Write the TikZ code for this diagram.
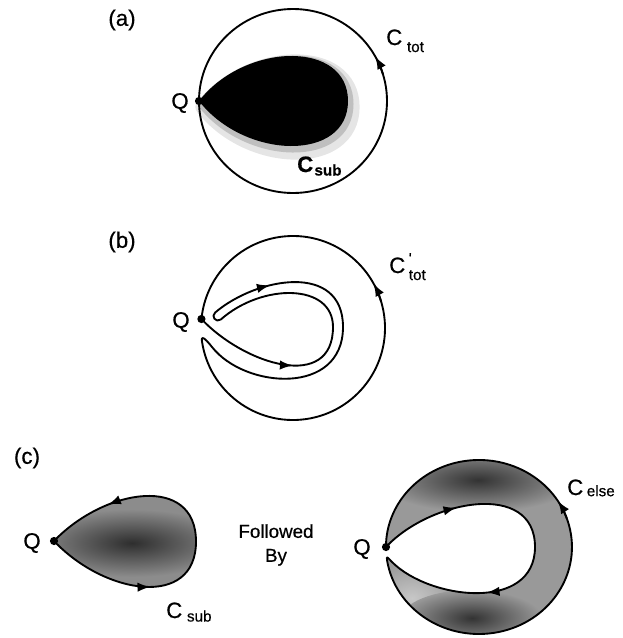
\documentclass[tikz,border=0pt]{standalone}
\usepackage{fontspec}
\setmainfont{Liberation Sans}[FakeBold=0.6]
\newfontfamily\heavyfont{Liberation Sans}[FakeBold=0.6]
\usetikzlibrary{arrows.meta,decorations.markings}
\newcommand{\subf}{\fontsize{13}{15}\selectfont}
\begin{document}
\begin{tikzpicture}[x=0.03cm, y=-0.03cm,
  curve/.style={line width=1.6pt, line join=round, line cap=round},
  lbl/.style={font=\heavyfont\fontsize{19}{22}\selectfont, inner sep=0pt},
  qdot/.style={circle, fill=black, inner sep=0pt, minimum size=7pt},
  tip/.style={-{Latex[length=11pt,width=8pt]}, line width=1.6pt},
  arrowat/.style={postaction={decorate, decoration={markings, mark=at position #1 with {\arrow{Latex[length=11pt,width=8pt]}}}}},
]
\useasboundingbox (0,0) rectangle (623,638);

% ---------------- (a) ----------------
\node[lbl] (laba) at (122,20) {(a)};
\begin{scope}[shift={(4,6)}]
  \path[fill=black!10, draw=black!10, line width=13pt, line join=round]
    (199,101) .. controls (245,42) and (348,40) .. (348,101) .. controls (348,162) and (245,160) .. (199,101) -- cycle;
\end{scope}
\begin{scope}[shift={(2,3)}]
  \path[fill=black!25, draw=black!25, line width=6pt, line join=round]
    (199,101) .. controls (245,42) and (348,40) .. (348,101) .. controls (348,162) and (245,160) .. (199,101) -- cycle;
\end{scope}
\fill[black] (199,101) .. controls (245,42) and (348,40) .. (348,101) .. controls (348,162) and (245,160) .. (199,101) -- cycle;
\draw[curve] (293,101) ellipse [x radius=94, y radius=92];
\draw[tip] (293,101) ++(-17:94 and 92) arc [start angle=-17, end angle=-29, x radius=94, y radius=92];
\node[qdot] (qa) at (199,101) {};
\node[lbl] (qla) at (180,103) {Q};
\node[lbl, anchor=base west] (ctota) at (386,45) {C\hspace{4pt}\raisebox{-6pt}{\subf tot}};
\node[lbl, anchor=base west] (csuba) at (297,172) {\bfseries C\hspace{1pt}\raisebox{-3pt}{\subf\bfseries sub}};

% ---------------- (b) ----------------
\node[lbl] (labb) at (122,242) {(b)};
\draw[curve] (201.4,319) .. controls (245,365) and (333,392) .. (333,327)
  .. controls (333,283) and (262,283) .. (220.8,319.5)
  .. controls (216.1,323.2) and (210.5,316.2) .. (215.2,312.5)
  .. controls (257,277) and (343,262) .. (343,327)
  .. controls (343,396) and (245,389) .. (212,347)
  .. controls (207.7,341.5) and (200.9,333.9) .. (201.9,340.8)
  arc [start angle=172, end angle=-174.4, radius=92];
\path[curve, arrowat=0.62] (201.4,319) .. controls (245,365) and (333,392) .. (333,327);
\path[curve, arrowat=0.38] (215.2,312.5) .. controls (257,277) and (343,262) .. (343,327);
\draw[tip] (293,328) ++(-17:92) arc [start angle=-17, end angle=-29, radius=92];
\node[qdot] (qb) at (201.4,319) {};
\node[lbl] (qlb) at (181,322) {Q};
\node[lbl, anchor=base west] (ctotb) at (389,273) {C\hspace{3pt}{\subf\rlap{\raisebox{8pt}{'}}\raisebox{-6pt}{tot}}};

% ---------------- (c) ----------------
\node[lbl] (labc) at (27,458) {(c)};
% left teardrop
\fill[black!45] (54,541) .. controls (105,595) and (196,609) .. (196,541.5) .. controls (196,474) and (105,488) .. (54,541) -- cycle;
\begin{scope}
  \clip (54,541) .. controls (105,595) and (196,609) .. (196,541.5) .. controls (196,474) and (105,488) .. (54,541) -- cycle;
  \shade[inner color=black!82, outer color=black!45] (132,543) ellipse [x radius=100, y radius=34];
\end{scope}
\draw[curve] (54,541) .. controls (105,595) and (196,609) .. (196,541.5) .. controls (196,474) and (105,488) .. (54,541) -- cycle;
\path[curve, arrowat=0.6] (54,541) .. controls (105,595) and (196,609) .. (196,541.5);
\path[curve, arrowat=0.64] (196,541.5) .. controls (196,474) and (105,488) .. (54,541);
\node[qdot] (qc1) at (54,541) {};
\node[lbl] (qlc1) at (32,543) {Q};
\node[lbl, anchor=base west] (csubc) at (166,618) {C\hspace{4pt}\raisebox{-3pt}{\subf sub}};

\node[font=\heavyfont\fontsize{16}{20.5}\selectfont, align=center, inner sep=0pt] (fb) at (276,545) {Followed\\By};

% right ring
\fill[black!40] (386,547) .. controls (430,500) and (535,480) .. (535,547)
  .. controls (535,612) and (430,600) .. (392,562)
  .. controls (387.8,557.8) and (386.1,554.7) .. (387.1,560.6)
  arc [start angle=171, end angle=-180, x radius=93, y radius=87] -- cycle;
\begin{scope}
  \clip (386,547) .. controls (430,500) and (535,480) .. (535,547)
  .. controls (535,612) and (430,600) .. (392,562)
  .. controls (387.8,557.8) and (386.1,554.7) .. (387.1,560.6)
  arc [start angle=171, end angle=-180, x radius=93, y radius=87] -- cycle;
  \shade[inner color=black!22, outer color=black!40] (412,598) ellipse [x radius=50, y radius=36];
  \shade[inner color=black!80, outer color=black!40] (478,480) ellipse [x radius=100, y radius=32];
  \shade[inner color=black!80, outer color=black!40] (472,618) ellipse [x radius=70, y radius=28];
\end{scope}
\draw[curve] (386,547) .. controls (430,500) and (535,480) .. (535,547)
  .. controls (535,612) and (430,600) .. (392,562)
  .. controls (387.8,557.8) and (386.1,554.7) .. (387.1,560.6)
  arc [start angle=171, end angle=-180, x radius=93, y radius=87] -- cycle;
\path[curve, arrowat=0.44] (386,547) .. controls (430,500) and (535,480) .. (535,547);
\path[curve, arrowat=0.42] (535,547) .. controls (535,612) and (430,600) .. (392,562);
\draw[tip] (479,547) ++(-19:93 and 87) arc [start angle=-19, end angle=-32, x radius=93, y radius=87];
\node[qdot] (qc2) at (386,547) {};
\node[lbl] (qlc2) at (362,549) {Q};
\node[lbl, anchor=base west] (celse) at (567,495) {C\hspace{3pt}\raisebox{-1pt}{\subf else}};
\end{tikzpicture}
\end{document}
